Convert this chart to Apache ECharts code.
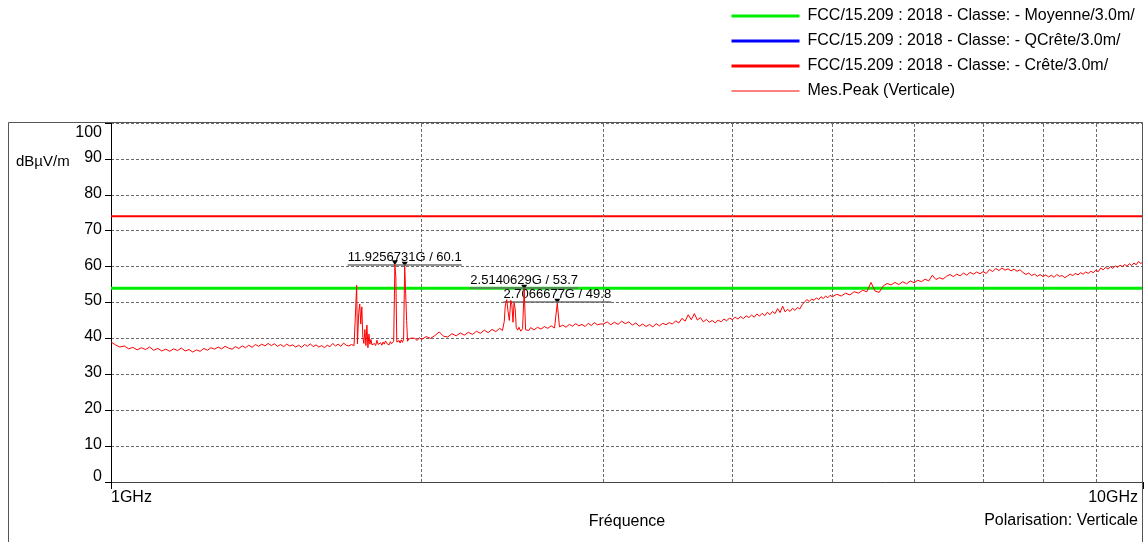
<!DOCTYPE html>
<html>
<head>
<meta charset="utf-8">
<title>Mes.Peak (Verticale)</title>
<script src="https://cdn.jsdelivr.net/npm/echarts@6/dist/echarts.min.js"></script>
<style>
  html, body { margin: 0; padding: 0; background: #fff; }
  #chart { width: 1147px; height: 542px; }
</style>
</head>
<body>
<div id="chart"></div>
<script>
// Limit lines (dBµV/m) over the 1–10 GHz span
const limitFreq = [1, 10];
const avgLimit = [54, 54];     // Moyenne
const peakLimit = [74, 74];    // Crête

// Vertical grid positions on the log frequency axis (GHz)
const gridFreqs = [2, 3, 4, 5, 6, 7, 8, 9];

// Y axis ticks
const yTicks = [0, 10, 20, 30, 40, 50, 60, 70, 80, 90, 100];

// Marker readouts
const markerFreq = [1.884, 1.9256731, 2.5140629, 2.7066677];
const markerLevel = [60.5, 60.1, 53.7, 49.8];
const markerText = ['', '11.9256731G / 60.1', '2.5140629G / 53.7', '2.7066677G / 49.8'];

// Peak detector sweep, vertical polarisation: [GHz, dBµV/m]
const traceBand1 = [
  [1.00,39.0],[1.01,38.2],[1.02,37.6],[1.03,37.9],[1.04,37.1],[1.05,37.5],[1.06,36.8],[1.07,37.4],
  [1.08,36.9],[1.09,37.6],[1.10,36.7],[1.11,37.2],[1.12,36.5],[1.13,37.0],[1.14,36.4],[1.15,37.1],
  [1.16,36.6],[1.17,37.3],[1.18,36.5],[1.19,36.9],[1.20,36.2],[1.21,36.8],[1.22,36.4],[1.23,37.2],
  [1.24,36.7],[1.25,37.4],[1.26,37.0],[1.27,37.6],[1.28,37.1],[1.29,37.8],[1.30,37.3],[1.31,37.0],
  [1.32,37.7],[1.33,37.2],[1.34,37.9],[1.35,37.4],[1.36,38.1],[1.37,37.5],[1.38,38.3],[1.39,37.8],
  [1.40,38.4],[1.41,37.9],[1.42,38.6],[1.43,38.0],[1.44,38.5],[1.45,37.8],[1.46,38.3],[1.47,37.7],
  [1.48,38.4],[1.49,37.9],[1.50,38.2],[1.51,37.6],[1.52,38.1],[1.53,37.5],[1.54,38.3],[1.55,37.8],
  [1.56,38.5],[1.57,37.7],[1.58,38.2],[1.59,37.6],[1.60,38.0],[1.61,37.4],[1.62,38.1],[1.63,37.7],
  [1.64,38.6],[1.65,37.9],[1.66,38.4],[1.67,37.8],[1.68,38.7],[1.69,38.1],[1.70,37.9],[1.71,38.3],
  [1.72,38.0],[1.725,38.1]
];
const traceCluster1 = [
  [1.730,54.8],[1.733,38.5],[1.738,47.2],[1.742,49.6],[1.746,44.0],[1.750,48.8],[1.754,40.2],
  [1.758,38.6],[1.762,42.5],[1.766,38.0],[1.770,43.7],[1.774,37.4],[1.778,41.2],[1.782,38.4],
  [1.786,39.7],[1.790,38.2],[1.795,37.8],[1.800,38.6],[1.805,38.0],[1.810,39.5],[1.815,38.3],
  [1.820,37.9],[1.825,38.8],[1.830,38.1],[1.835,39.0],[1.840,38.4],[1.845,39.3],[1.850,38.6],
  [1.855,38.9],[1.860,38.2],[1.865,39.1],[1.870,38.5],[1.875,38.9],[1.879,39.2],[1.884,60.5],
  [1.888,57.1],[1.892,39.0],[1.897,38.5],[1.902,39.4],[1.906,38.7],[1.911,39.6],[1.916,38.9],
  [1.921,39.8],[1.9256731,60.1],[1.930,52.4],[1.934,45.0],[1.938,39.2],[1.943,39.8],[1.948,39.3],
  [1.953,40.1]
];
const traceBand2 = [
  [1.96,39.6],[1.97,40.0],[1.98,39.4],[1.99,40.2],[2.00,39.7],[2.02,40.5],[2.04,40.0],[2.06,40.8],
  [2.08,41.8],[2.10,40.6],[2.12,40.4],[2.14,41.3],[2.16,40.7],[2.18,41.5],[2.20,40.9],[2.22,41.7],
  [2.24,41.1],[2.26,42.0],[2.28,41.4],[2.30,42.3],[2.32,41.6],[2.34,42.5],[2.36,41.9],[2.38,42.8],
  [2.395,42.2]
];
const traceCluster2 = [
  [2.400,42.5],[2.405,44.8],[2.410,49.0],[2.418,50.8],[2.425,47.6],[2.432,45.0],[2.440,50.6],
  [2.446,49.4],[2.452,44.5],[2.458,50.0],[2.464,48.2],[2.470,43.0],[2.478,42.3],[2.485,43.1],
  [2.495,42.0],[2.505,42.7],[2.5140629,53.7],[2.522,42.4],[2.530,42.9],[2.540,42.2],[2.55,43.0],
  [2.57,42.4],[2.59,43.1],[2.61,42.6],[2.63,43.3],[2.65,42.8],[2.67,43.5],[2.69,42.9],
  [2.7066677,49.8],[2.72,43.2],[2.74,43.7],[2.76,43.1],[2.78,43.9],[2.80,43.4],[2.82,44.1],
  [2.84,43.5],[2.86,43.9],[2.88,43.3],[2.90,44.2],[2.92,43.6],[2.94,44.4],[2.96,43.8],[2.98,44.0]
];
const traceBand3 = [
  [3.000,44.0],[3.025,44.6],[3.050,43.8],[3.075,44.5],[3.100,43.9],[3.125,44.8],[3.150,44.1],
  [3.175,44.6],[3.200,43.7],[3.225,44.3],[3.250,43.4],[3.275,44.0],[3.300,43.3],[3.325,43.9],
  [3.350,43.2],[3.375,44.1],[3.400,43.5],[3.425,44.2],[3.450,43.8],[3.475,44.4],[3.500,44.0],
  [3.525,44.9],[3.550,44.3],[3.575,45.6],[3.600,44.8],[3.625,46.6],[3.650,45.2],[3.675,46.9],
  [3.700,45.1],[3.725,45.8],[3.750,44.6],[3.775,45.3],[3.800,44.5],[3.825,45.0],[3.850,44.3],
  [3.875,45.1],[3.900,44.6],[3.925,45.4],[3.950,44.9],[3.975,45.7],[4.000,45.2],[4.025,45.9],
  [4.050,45.4],[4.075,46.1],[4.100,45.5],[4.125,46.3],[4.150,45.8],[4.175,46.5],[4.200,45.9],
  [4.225,46.8],[4.250,46.2],[4.275,47.0],[4.300,46.3],[4.325,47.3],[4.350,46.6],[4.375,47.5],
  [4.400,46.9],[4.425,48.3],[4.450,47.2],[4.475,49.0],[4.500,47.4],[4.525,48.1],[4.550,47.5],
  [4.575,48.4],[4.600,47.8],[4.625,48.6],[4.650,48.2],[4.675,49.4],[4.700,50.2],[4.725,50.8],
  [4.750,50.3],[4.775,51.0],[4.800,50.6],[4.825,51.3],[4.850,50.8],[4.875,51.6],[4.900,51.1],
  [4.925,51.8],[4.950,51.3],[4.975,52.0],[5.000,51.6]
];
const traceBand4 = [
  [5.05,52.3],[5.10,51.8],[5.15,52.6],[5.20,52.1],[5.25,53.0],[5.30,52.6],[5.35,53.4],[5.40,53.0],
  [5.45,55.6],[5.50,53.2],[5.55,52.8],[5.60,54.6],[5.65,55.3],[5.70,54.9],[5.75,55.6],[5.80,55.0],
  [5.85,55.8],[5.90,55.2],[5.95,56.0],[6.00,55.5],[6.05,56.2],[6.10,55.8],[6.15,56.5],[6.20,56.0],
  [6.25,57.6],[6.30,56.4],[6.35,56.9],[6.40,56.5],[6.45,57.3],[6.50,57.8],[6.55,57.2],[6.60,57.9],
  [6.65,57.4],[6.70,58.2],[6.75,57.6],[6.80,58.4],[6.85,57.9],[6.90,58.5],[6.95,58.0],[7.00,58.6],
  [7.05,58.1],[7.10,59.2],[7.15,58.6],[7.20,59.5],[7.25,58.9],[7.30,59.6],[7.35,59.0],[7.40,59.4],
  [7.45,58.8],[7.50,59.3],[7.55,58.7],[7.60,59.1],[7.65,58.4],[7.70,57.8],[7.75,58.2],[7.80,57.5],
  [7.85,57.9],[7.90,57.3],[7.95,57.8],[8.00,57.2],[8.05,57.7],[8.10,57.1],[8.15,57.6],[8.20,57.0],
  [8.25,57.8],[8.30,57.3],[8.35,57.5],[8.40,56.9],[8.45,57.4],[8.50,57.9],[8.55,57.5],[8.60,58.1],
  [8.65,57.7],[8.70,58.3],[8.75,57.9],[8.80,58.5],[8.85,58.1],[8.90,58.7],[8.95,58.3],[9.00,59.0],
  [9.05,58.6],[9.10,59.6],[9.15,59.1],[9.20,59.8],[9.25,59.3],[9.30,60.0],[9.35,59.5],[9.40,60.2],
  [9.45,59.8],[9.50,60.4],[9.55,60.0],[9.60,60.6],[9.65,60.1],[9.70,60.8],[9.75,60.3],[9.80,61.0],
  [9.85,60.5],[9.90,61.4],[9.95,60.9],[10.00,61.2]
];

const FONT = '"Liberation Sans", Arial, sans-serif';
const names = {
  avg: 'FCC/15.209 : 2018 - Classe: - Moyenne/3.0m/',
  qp: 'FCC/15.209 : 2018 - Classe: - QCrête/3.0m/',
  pk: 'FCC/15.209 : 2018 - Classe: - Crête/3.0m/',
  meas: 'Mes.Peak (Verticale)'
};

const trace = [].concat(traceBand1, traceCluster1, traceBand2, traceCluster2, traceBand3, traceBand4);
const zip = (xs, ys) => xs.map((x, i) => [x, ys[i]]);

// width of a marker caption, used for its underline
const measureCtx = document.createElement('canvas').getContext('2d');
measureCtx.font = '13px ' + FONT;
const textWidth = s => Math.round(measureCtx.measureText(s).width);

const markerPoints = markerFreq.map((f, i) => ({
  coord: [f, markerLevel[i]],
  label: markerText[i] ? {
    show: true,
    position: 'top',
    distance: 0,
    offset: [0, 4],
    formatter: '{t|' + markerText[i] + '}\n{u|}',
    rich: {
      t: { fontSize: 13, fontFamily: FONT, color: '#000', lineHeight: 14 },
      u: { width: textWidth(markerText[i]), height: 1.5, backgroundColor: '#6e6e6e' }
    }
  } : { show: false }
}));

const chart = echarts.init(document.getElementById('chart'), null, { renderer: 'canvas' });

chart.setOption({
  backgroundColor: '#fff',
  animation: false,
  textStyle: { fontFamily: FONT },
  grid: { left: 111, right: 4, top: 123, bottom: 60, outerBoundsMode: 'none', containLabel: false },
  legend: {
    orient: 'vertical',
    left: 730,
    top: 8,
    padding: 0,
    itemWidth: 68,
    itemHeight: 14,
    itemGap: 9,
    selectedMode: false,
    itemStyle: { opacity: 0 },
    textStyle: { fontSize: 16, color: '#000', fontFamily: FONT, padding: [0, 0, 0, 3] },
    data: [
      { name: names.avg, lineStyle: { width: 3 } },
      { name: names.qp, lineStyle: { width: 3 } },
      { name: names.pk, lineStyle: { width: 3 } },
      { name: names.meas, lineStyle: { width: 1 } }
    ]
  },
  xAxis: {
    type: 'log',
    logBase: 10,
    min: 1,
    max: 10,
    name: 'Fréquence',
    nameLocation: 'middle',
    nameGap: 32,
    nameTextStyle: { fontSize: 16, color: '#000', fontFamily: FONT },
    axisLine: { show: true, lineStyle: { color: '#444', width: 1 } },
    axisTick: { show: true, length: 7, lineStyle: { color: '#000' } },
    splitLine: { show: false },
    minorTick: { show: false },
    axisLabel: {
      margin: 8,
      fontSize: 16,
      color: '#000',
      fontFamily: FONT,
      alignMinLabel: 'left',
      alignMaxLabel: 'right',
      formatter: v => v >= 10 ? '{r|' + v + 'GHz}' : v + 'GHz',
      rich: { r: { fontSize: 16, color: '#000', fontFamily: FONT, padding: [0, 5, 0, 0] } }
    }
  },
  yAxis: {
    type: 'value',
    min: yTicks[0],
    max: yTicks[yTicks.length - 1],
    interval: 10,
    axisLine: { show: true, lineStyle: { color: '#000', width: 1 } },
    axisTick: { show: true, length: 6, lineStyle: { color: '#000' } },
    splitLine: { show: true, lineStyle: { color: '#6a6a6a', type: [3, 2], width: 1 } },
    axisLabel: {
      margin: 9,
      fontSize: 16,
      color: '#000',
      fontFamily: FONT,
      formatter: v => v === 100 ? '{top|100}' : (v === 0 ? '{zero|0}' : '{n|' + v + '}'),
      rich: {
        n: { fontSize: 16, color: '#000', fontFamily: FONT, padding: [0, 0, 3, 0] },
        zero: { fontSize: 16, color: '#000', fontFamily: FONT, padding: [0, 0, 10, 0] },
        top: { fontSize: 16, color: '#000', fontFamily: FONT, padding: [20, 0, 0, 0] }
      }
    }
  },
  graphic: [
    {
      type: 'rect', silent: true, z: 100,
      shape: { x: 8.5, y: 122.5, width: 1134, height: 430 },
      style: { fill: null, stroke: '#555', lineWidth: 1 }
    },
    {
      type: 'text', left: 16, top: 154, silent: true,
      style: { text: 'dBµV/m', fill: '#000', font: '15px ' + FONT }
    },
    {
      type: 'text', right: 9, top: 513, silent: true,
      style: { text: 'Polarisation: Verticale', fill: '#000', font: '16px ' + FONT }
    }
  ],
  series: [
    {
      name: 'grid',
      type: 'line',
      data: [],
      silent: true,
      markLine: {
        silent: true,
        symbol: 'none',
        label: { show: false },
        lineStyle: { color: '#6a6a6a', type: [3, 2], width: 1 },
        data: gridFreqs.map(f => ({ xAxis: f }))
      }
    },
    {
      name: names.avg, type: 'line', data: zip(limitFreq, avgLimit), symbol: 'none', z: 3,
      lineStyle: { color: '#00ee00', width: 3 }, itemStyle: { color: '#00ee00' }
    },
    {
      name: names.qp, type: 'line', data: [], symbol: 'none', z: 3,
      lineStyle: { color: '#0000ff', width: 2 }, itemStyle: { color: '#0000ff' }
    },
    {
      name: names.pk, type: 'line', data: zip(limitFreq, peakLimit), symbol: 'none', z: 3,
      lineStyle: { color: '#ff0000', width: 2 }, itemStyle: { color: '#ff0000' }
    },
    {
      name: names.meas, type: 'line', data: trace, symbol: 'none', z: 5,
      lineStyle: { color: '#ff0000', width: 1 }, itemStyle: { color: '#ff0000' },
      markPoint: {
        symbol: 'triangle',
        symbolSize: [6, 5],
        symbolRotate: 180,
        symbolOffset: [0, -2],
        itemStyle: { color: '#000' },
        data: markerPoints
      }
    }
  ]
});
</script>
</body>
</html>
